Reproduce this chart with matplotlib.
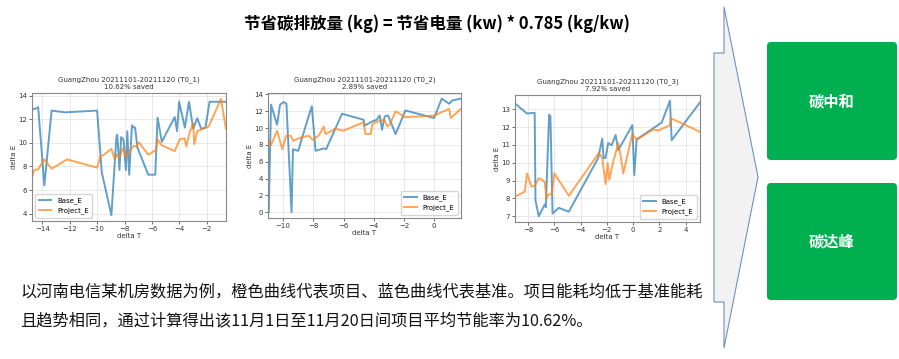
import matplotlib.pyplot as plt
from matplotlib.patches import FancyBboxPatch, Polygon

# ---- data ----
t1_base_x = [-14.75, -14.4, -14.3, -13.85, -13.32, -12.35, -10.0, -9.66, -8.96, -8.6, -8.53, -8.37,
             -8.25, -8.08, -7.9, -7.8, -7.66, -7.46, -7.3, -7.23, -7.06, -6.27, -5.76, -5.59, -5.28,
             -4.34, -4.17, -4.02, -3.6, -3.3, -2.99, -2.7, -2.4, -2.1, -1.8, -0.6]
t1_base_y = [12.84, 12.95, 13.05, 6.38, 12.75, 12.6, 12.75, 7.5, 3.86, 10.4, 10.7, 7.7,
             10.5, 10.3, 7.7, 11.0, 7.3, 11.5, 11.3, 11.3, 9.6, 7.3, 7.3, 12.15, 10.1,
             12.2, 11.0, 13.5, 11.3, 13.5, 11.2, 12.1, 11.2, 11.3, 13.5, 13.5]
t1_proj_x = [-14.75, -14.58, -14.3, -13.85, -13.32, -12.2, -10.0, -9.76, -9.57, -8.96, -8.72, -8.55,
             -8.36, -8.12, -7.88, -7.64, -7.35, -7.16, -6.96, -6.27, -5.71, -5.59, -5.28, -4.34,
             -3.98, -3.62, -3.5, -3.25, -2.99, -2.92, -2.7, -1.86, -0.97, -0.6]
t1_proj_y = [7.1, 7.7, 7.75, 8.6, 7.8, 8.6, 7.9, 8.9, 8.95, 9.5, 8.6, 9.0,
             8.8, 9.55, 8.8, 9.3, 9.75, 9.7, 10.05, 9.0, 9.4, 10.3, 9.8, 9.3,
             10.3, 10.4, 9.7, 10.9, 11.7, 9.9, 11.0, 11.4, 13.75, 11.2]

t2_base_x = [-11.0, -10.95, -10.8, -10.4, -10.2, -9.95, -9.78, -9.44, -9.35, -9.0, -8.55, -8.1,
             -7.85, -7.3, -7.15, -6.1, -4.67, -4.6, -4.1, -3.8, -3.6, -3.45, -3.27, -3.05,
             -2.55, -1.9, 0.0, 0.5, 1.0, 1.2, 1.78]
t2_base_y = [8.2, 0.0, 12.8, 10.4, 12.8, 13.1, 12.9, 0.0, 7.5, 7.3, 10.0, 12.6,
             7.3, 7.6, 7.5, 11.7, 11.0, 10.3, 10.8, 11.0, 11.5, 9.8, 11.4, 11.5,
             9.3, 12.1, 11.2, 13.5, 12.9, 13.3, 13.5]
t2_proj_x = [-11.0, -10.8, -10.4, -10.05, -9.8, -9.5, -9.33, -8.8, -8.3, -8.05, -7.65, -7.3,
             -7.2, -6.55, -6.0, -4.67, -4.55, -4.2, -4.1, -3.9, -3.3, -3.1, -2.95, -2.55,
             -1.9, 0.0, 1.0, 1.1, 1.78]
t2_proj_y = [8.7, 8.0, 9.7, 7.5, 9.1, 9.1, 8.5, 8.9, 9.1, 8.6, 9.1, 10.2,
             9.3, 9.9, 9.7, 10.7, 9.3, 9.3, 10.4, 10.7, 11.0, 10.2, 10.4, 12.0,
             11.3, 11.5, 12.3, 11.2, 12.3]

t3_base_x = [-9.0, -8.08, -7.5, -7.44, -7.19, -6.73, -6.65, -6.4, -6.3, -6.14, -5.66, -4.9,
             -2.66, -2.35, -2.25, -2.1, -1.9, -1.64, -1.33, -1.13, -0.06, 0.09, 0.27, 2.18,
             2.81, 2.94, 5.1]
t3_base_y = [13.32, 12.75, 12.8, 7.9, 7.0, 7.66, 7.5, 12.7, 12.6, 7.15, 7.47, 7.25,
             10.26, 11.35, 10.26, 10.26, 11.1, 10.98, 11.55, 10.7, 12.1, 9.3, 11.3, 12.25,
             13.47, 11.26, 13.38]
t3_proj_x = [-9.0, -8.25, -8.08, -7.75, -7.5, -7.2, -6.85, -6.73, -6.6, -6.47, -6.2, -6.0,
             -4.9, -2.6, -2.35, -2.1, -1.94, -1.82, -1.5, -1.26, -1.13, -0.93, -0.75, -0.06,
             0.27, 1.54, 1.92, 2.81, 2.86, 5.1]
t3_proj_y = [8.1, 8.38, 9.4, 8.66, 8.7, 9.13, 9.0, 8.9, 8.0, 8.2, 8.25, 9.4,
             8.15, 10.55, 10.26, 8.8, 9.98, 9.04, 10.1, 10.73, 11.1, 10.3, 9.4, 11.6,
             11.3, 11.87, 11.8, 12.1, 12.5, 11.73]

titles = ["GuangZhou 20211101-20211120 (T0_1)\n10.62% saved",
          "GuangZhou 20211101-20211120 (T0_2)\n2.89% saved",
          "GuangZhou 20211101-20211120 (T0_3)\n7.92% saved"]
legend_locs = ["lower left", "lower right", "lower right"]

heading = "节省碳排放量 (kg) = 节省电量 (kw) * 0.785 (kg/kw)"
note_lines = ["以河南电信某机房数据为例，橙色曲线代表项目、蓝色曲线代表基准。项目能耗均低于基准能耗",
              "且趋势相同，通过计算得出该11月1日至11月20日间项目平均节能率为10.62%。"]
box_labels = ["碳中和", "碳达峰"]

W, H = 899, 359
fig = plt.figure(figsize=(W / 100, H / 100), dpi=100)
cjk = ['Noto Sans CJK SC', 'DejaVu Sans']

# overlay in pixel coords (y down) for the slide decoration
bg = fig.add_axes([0, 0, 1, 1])
bg.set_xlim(0, W)
bg.set_ylim(H, 0)
bg.axis("off")

bg.text(437, 24, heading, ha="center", va="center", fontsize=11.9,
        fontweight="bold", family=cjk, color="black")
bg.text(20, 292, note_lines[0], ha="left", va="center", fontsize=11.7, family=cjk, color="#111111")
bg.text(20, 321, note_lines[1], ha="left", va="center", fontsize=11.7, family=cjk, color="#111111")

arrow = Polygon([(714, 53), (724, 53), (724, 7), (758, 177), (724, 348), (724, 302), (714, 302)],
                closed=True, facecolor="#f2f2f2", edgecolor="#7090c0", lw=0.8)
bg.add_patch(arrow)

for (y0, y1), lab in zip([(42, 160), (183, 300)], box_labels):
    box = FancyBboxPatch((767, y0), 130, y1 - y0, boxstyle="round,pad=0,rounding_size=4",
                         facecolor="#00b050", edgecolor="none")
    bg.add_patch(box)
    bg.text(832, (y0 + y1) / 2, lab, ha="center", va="center", fontsize=11,
            fontweight="bold", family=cjk, color="white")

# the three small matplotlib charts
rects = [(32, 93, 226, 221), (268, 93, 461, 218), (515, 95, 700, 222)]
series = [(t1_base_x, t1_base_y, t1_proj_x, t1_proj_y),
          (t2_base_x, t2_base_y, t2_proj_x, t2_proj_y),
          (t3_base_x, t3_base_y, t3_proj_x, t3_proj_y)]

for (x0, y0, x1, y1), (bx, by, px, py), title, loc in zip(rects, series, titles, legend_locs):
    ax = fig.add_axes([x0 / W, 1 - y1 / H, (x1 - x0) / W, (y1 - y0) / H])
    ax.plot(bx, by, color="#1f77b4", alpha=0.7, lw=1.4, label="Base_E")
    ax.plot(px, py, color="#ff7f0e", alpha=0.7, lw=1.4, label="Project_E")
    ax.set_xlim(min(bx + px), max(bx + px))
    ax.grid(True, color="#e0e0e0", lw=0.5)
    ax.set_title(title, fontsize=5, pad=3, color="#333333", linespacing=1.2)
    ax.set_xlabel("delta T", fontsize=5, labelpad=1, color="#333333")
    ax.set_ylabel("delta E", fontsize=5, labelpad=1, color="#333333")
    ax.tick_params(labelsize=5, length=2, width=0.5, pad=1.5, colors="#333333")
    for s in ax.spines.values():
        s.set_color("#888888")
        s.set_linewidth(0.8)
    ax.legend(loc=loc, fontsize=5, framealpha=0.8, handlelength=1.8, borderpad=0.5)

fig.savefig("out.png", dpi=100)
